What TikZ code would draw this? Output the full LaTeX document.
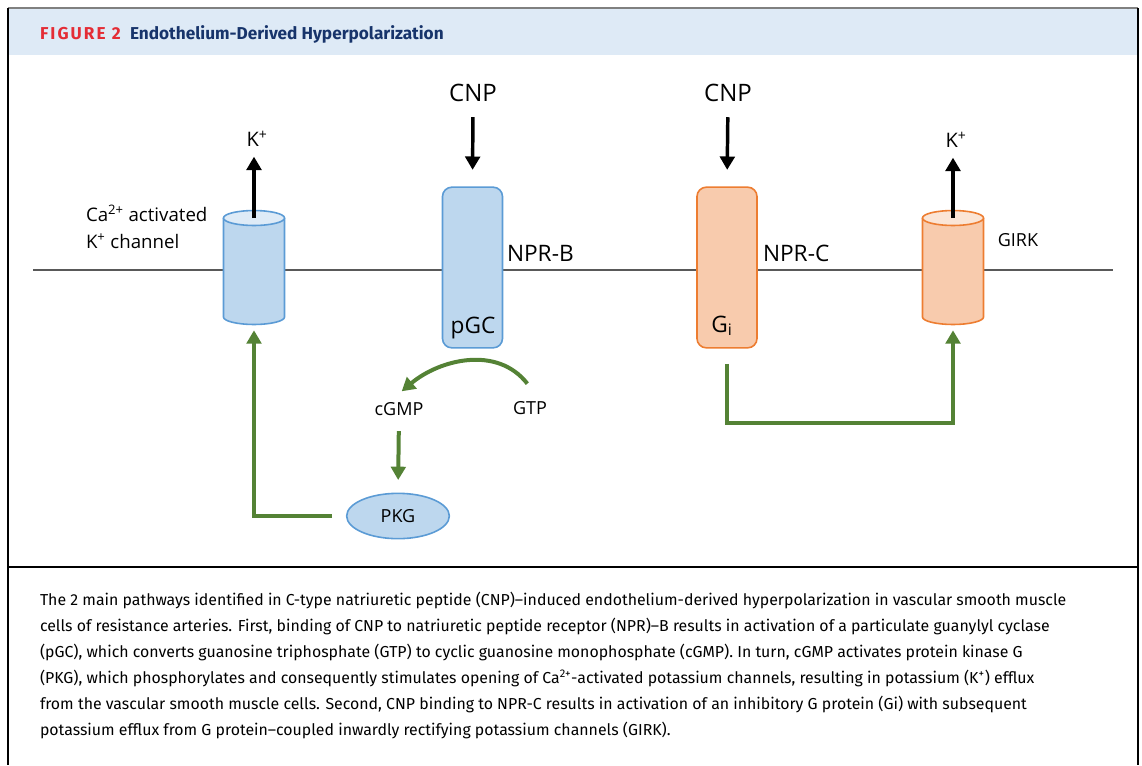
\documentclass[tikz,border=0pt]{standalone}
\usepackage{fontspec}
\setmainfont{Open Sans}
\newfontfamily\capfont[Ligatures=TeX]{Fira Sans}
\usetikzlibrary{positioning,arrows.meta,shapes.geometric}
\definecolor{bandblue}{HTML}{DEEAF6}
\definecolor{figred}{HTML}{E42C35}
\definecolor{navy}{HTML}{17346B}
\definecolor{chanblue}{HTML}{BDD7EE}
\definecolor{chanbluetop}{HTML}{DEEBF7}
\definecolor{lineblue}{HTML}{5B9BD5}
\definecolor{chanorange}{HTML}{F8CBAD}
\definecolor{chanorangetop}{HTML}{FBE5D6}
\definecolor{lineorange}{HTML}{ED7D31}
\definecolor{pathgreen}{HTML}{548235}
\definecolor{membrane}{HTML}{595959}
\tikzset{
  every node/.style={inner sep=0pt, outer sep=0pt},
  lbl/.style={font=\fontsize{13.5}{16}\selectfont},
  cnplbl/.style={font=\fontsize{18}{21}\selectfont},
  klbl/.style={font=\fontsize{15}{18}\selectfont, anchor=base},
  nprlbl/.style={font=\fontsize{17}{20}\selectfont, anchor=base west},
  receptor/.style={rectangle, rounded corners=7pt, line width=1.2pt,
    minimum width=45pt, minimum height=120.5pt},
  bluerec/.style={receptor, fill=chanblue, draw=lineblue},
  orangerec/.style={receptor, fill=chanorange, draw=lineorange},
  influx/.style={-{Triangle[length=10pt,width=11pt]}, line width=2.6pt, black},
  gpath/.style={-{Triangle[length=10pt,width=11pt]}, line width=3pt, pathgreen},
}
% cylinder: name, x, body fill, top fill, outline
\newcommand{\channel}[5]{%
  \coordinate (#1 top) at (#2,218);
  \coordinate (#1 bot) at (#2,317);
  \filldraw[fill=#3, draw=#5, line width=1.2pt]
    ([xshift=-22.9pt]#1 top) -- ([xshift=-22.9pt]#1 bot)
    arc[start angle=180, end angle=360, x radius=22.9pt, y radius=5.6pt]
    -- ([xshift=22.9pt]#1 top);
  \filldraw[fill=#4, draw=#5, line width=1.2pt]
    (#1 top) ellipse[x radius=22.9pt, y radius=5.6pt];
}

\begin{document}
\begin{tikzpicture}[x=0.75pt,y=-0.75pt]
\useasboundingbox (0,0) rectangle (1142,765);
% frame and title band
\fill[bandblue] (9,9) rectangle (1137,55);
\draw[gray, line width=1.5pt] (8,8) -- (1138,8);
\draw[black, line width=2pt] (8,8) -- (8,765);
\draw[black, line width=1.5pt] (1138,8) -- (1138,765);
\draw[black, line width=1.2pt] (8,567) -- (1138,567);
\node[anchor=base west, font=\capfont\bfseries\fontsize{12.9}{15}\selectfont] (title) at (40,39)
  {\textcolor{figred}{\addfontfeature{LetterSpace=12}FIGURE 2}\hspace{7pt}\textcolor{navy}{Endothelium-Derived Hyperpolarization}};

% membrane
\draw[membrane, line width=1.2pt] (33,270) -- (1113,270);

% channels
\channel{kca}{254}{chanblue}{chanbluetop}{lineblue}
\channel{girk}{953}{chanorange}{chanorangetop}{lineorange}

% receptors
\node[bluerec] (pgc) at (472.5,267.5) {};
\node[orangerec] (gi) at (727,267.5) {};
\node[font=\fontsize{17}{20}\selectfont, anchor=base] (pgclbl) at (473,333) {pGC};
\node[font=\fontsize{17}{20}\selectfont, anchor=base] (gilbl) at (722,332) {G\textsubscript{i}};
\node[nprlbl] (nprb) at (507,261) {NPR-B};
\node[nprlbl] (nprc) at (763,261) {NPR-C};

% labels above
\node[cnplbl, anchor=base] (cnpB) at (473,101) {CNP};
\node[cnplbl, anchor=base] (cnpC) at (728,101) {CNP};
\node[klbl] (kA) at (257,146) {K\textsuperscript{+}};
\node[klbl] (kB) at (956,147) {K\textsuperscript{+}};
\node[anchor=base west, align=left, font=\fontsize{14}{20.25}\selectfont] (kcalbl) at (86,248)
  {Ca\textsuperscript{2+} activated\\K\textsuperscript{+} channel};
\node[lbl, anchor=base] (girklbl) at (1018,246) {GIRK};

% cytosol side
\node[lbl, anchor=base] (cgmp) at (399,415) {cGMP};
\node[lbl, anchor=base] (gtp) at (530,414) {GTP};
\node[ellipse, fill=chanblue, draw=lineblue, line width=1.2pt,
  minimum width=77pt, minimum height=34pt, font=\fontsize{13.5}{16}\selectfont] (pkg) at (398,516) {PKG};

% arrows
\draw[influx, shorten <=12pt, shorten >=13pt] (cnpB.south) -- (pgc.north);
\draw[influx, shorten <=12pt, shorten >=13pt] (cnpC.south) -- (gi.north);
\draw[influx, shorten >=8pt] (kca top) -- (kA.base -| kca top);
\draw[influx, shorten >=8pt] (girk top) -- (kB.base -| girk top);
\draw[gpath] ([xshift=-2pt, yshift=13pt]gtp.north) to[out=128, in=40] ([xshift=2pt, yshift=8pt]cgmp.north);
\draw[gpath, shorten <=12pt, shorten >=10pt] (cgmp.south) -- (pkg.north);
\draw[gpath, shorten <=11pt, shorten >=10pt] (pkg.west) -| (kca bot);
\coordinate (gibend) at ([yshift=-56.25pt]gi.south);
\draw[gpath, shorten <=12pt, shorten >=10pt] (gi.south) -- (gibend) -| (girk bot);

% caption
\node[anchor=north west, align=left, font=\capfont\fontsize{11.9}{19.5}\selectfont] (caption) at (40,592)
{The 2 main pathways identified in C-type natriuretic peptide (CNP)--induced endothelium-derived hyperpolarization in vascular smooth muscle\\
cells of resistance arteries. First, binding of CNP to natriuretic peptide receptor (NPR)--B results in activation of a particulate guanylyl cyclase\\
(pGC), which converts guanosine triphosphate (GTP) to cyclic guanosine monophosphate (cGMP). In turn, cGMP activates protein kinase G\\
(PKG), which phosphorylates and consequently stimulates opening of Ca\textsuperscript{2+}-activated potassium channels, resulting in potassium (K\textsuperscript{+}) efflux\\
from the vascular smooth muscle cells. Second, CNP binding to NPR-C results in activation of an inhibitory G protein (Gi) with subsequent\\
potassium efflux from G protein--coupled inwardly rectifying potassium channels (GIRK).};
\end{tikzpicture}
\end{document}
